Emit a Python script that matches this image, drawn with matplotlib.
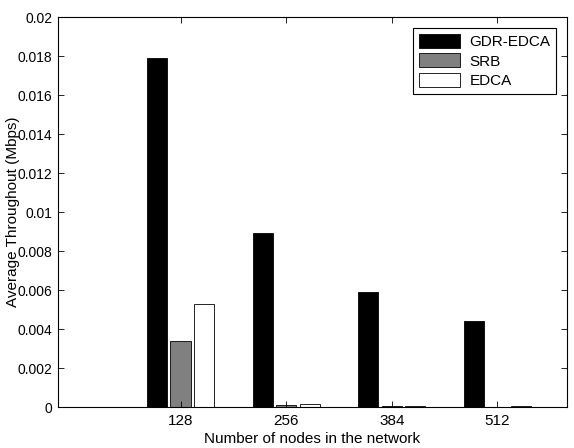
import matplotlib
matplotlib.use("Agg")
import matplotlib.pyplot as plt
import numpy as np
from matplotlib.ticker import FuncFormatter

plt.rcParams['font.family'] = ['Liberation Sans', 'DejaVu Sans']

# data
nodes = ['128', '256', '384', '512']
gdr_edca = [0.0179, 0.0089, 0.0059, 0.00442]
srb = [0.00337, 0.00012, 0.00005, 0.00001]
edca = [0.0053, 0.00016, 0.00004, 0.00004]

fig = plt.figure(figsize=(5.74, 4.48), dpi=100)
ax = fig.add_axes([0.101, 0.0915, 0.887, 0.8705])

x = np.arange(1, len(nodes) + 1)
w = 0.19
step = 0.222
ax.bar(x - step, gdr_edca, width=w, color='black', edgecolor='black', linewidth=0.6, label='GDR-EDCA')
ax.bar(x, srb, width=w, color='#808080', edgecolor='black', linewidth=0.6, label='SRB')
ax.bar(x + step, edca, width=w, color='white', edgecolor='black', linewidth=0.6, label='EDCA')

ax.set_xlim(-0.16, 4.66)
ax.set_ylim(0, 0.02)
ax.set_xticks(x)
ax.set_xticklabels(nodes, fontsize=11)
ax.set_yticks(np.arange(0, 0.0201, 0.002))
ax.yaxis.set_major_formatter(FuncFormatter(lambda v, p: '%g' % round(v, 4)))
ax.tick_params(direction='in', top=True, right=True, labelsize=10, length=4, width=0.6, pad=4)
ax.tick_params(axis='x', labelsize=11, pad=5)
for s in ax.spines.values():
    s.set_linewidth(0.8)

ax.set_xlabel('Number of nodes in the network', fontsize=11, labelpad=3)
ax.set_ylabel('Average Throughout (Mbps)', fontsize=11)
ax.yaxis.set_label_coords(-0.075, 0.5)

leg = ax.legend(loc='upper right', fontsize=11, fancybox=False, edgecolor='black',
                framealpha=1, borderaxespad=0.7, handlelength=2.7, handleheight=1.0,
                handletextpad=0.6, labelspacing=0.3, borderpad=0.4)
leg.get_frame().set_linewidth(0.8)

fig.savefig('out.png', dpi=100)
